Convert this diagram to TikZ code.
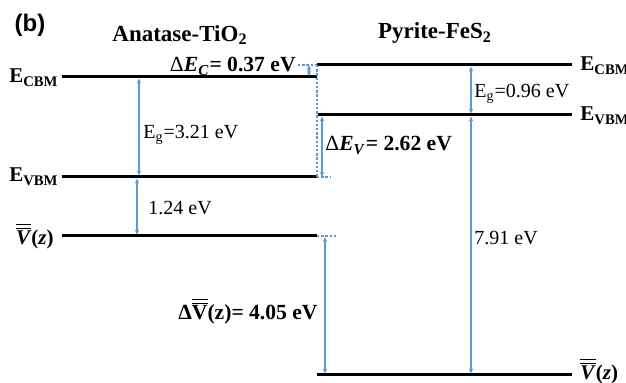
\documentclass[tikz,border=0pt]{standalone}
\usepackage{fontspec}
\setmainfont{Liberation Serif}
\newfontfamily\labelsans{Liberation Sans}
\usetikzlibrary{arrows.meta}
\definecolor{arrblue}{HTML}{5B9BD5}
\newcommand{\mybi}[1]{\textbf{\textit{#1}}}
\newcommand{\mydblV}{\ensuremath{\overline{\overline{\mbox{\mybi{V}}}}}\textbf{(\textit{z})}}
\newcommand{\mydE}[1]{\textmd{Δ}\mybi{E}\textsubscript{\mybi{#1}}}
\begin{document}
\begin{tikzpicture}[x=0.5pt,y=-0.5pt,
  level/.style={line width=1.5pt, black},
  gap/.style={arrblue, line width=0.55pt, {Stealth[length=2.5pt,width=2.2pt]}-{Stealth[length=2.5pt,width=2.2pt]}},
  guide/.style={arrblue, line width=0.55pt, dash pattern=on 1.2pt off 0.9pt},
  val/.style={inner sep=0pt, font=\fontsize{10}{12}\selectfont},
  side/.style={inner sep=0pt, font=\fontsize{10.5}{12}\selectfont\bfseries},
  title/.style={inner sep=0pt, font=\fontsize{11.5}{13}\selectfont\bfseries},
  big/.style={inner sep=0pt, font=\fontsize{10.8}{13}\selectfont\bfseries},
  vlab/.style={inner sep=0pt, font=\fontsize{10.5}{13}\selectfont}]
\useasboundingbox (0,0) rectangle (626,383);

% level end points
\coordinate (LC1) at (62,77);  \coordinate (LC2) at (317,77);
\coordinate (LV1) at (62,177); \coordinate (LV2) at (317,177);
\coordinate (LZ1) at (62,236); \coordinate (LZ2) at (317,236);
\coordinate (RC1) at (317,65); \coordinate (RC2) at (572,65);
\coordinate (RV1) at (318,115); \coordinate (RV2) at (572,115);
\coordinate (RZ1) at (317,375); \coordinate (RZ2) at (572,375);

% levels
\draw[level] (LC1) -- (LC2);
\draw[level] (LV1) -- (LV2);
\draw[level] (LZ1) -- (LZ2);
\draw[level] (RC1) -- (RC2);
\draw[level] (RV1) -- (RV2);
\draw[level] (RZ1) -- (RZ2);

% guide lines
\coordinate (g1) at (298,65);
\coordinate (g2) at (330,177);
\coordinate (g3) at (336,236);
\draw[guide] (g1) -- (RC1);
\draw[guide] (RC1) -- (LV2);
\draw[guide] (LV2) -- (g2);
\draw[guide] (LZ2) -- (g3);

% arrows
\coordinate (a1t) at (139,78.5);  \coordinate (a1b) at (139,175.5);
\coordinate (a2t) at (137,178.5); \coordinate (a2b) at (137,234.5);
\coordinate (a3t) at (471,66.5);  \coordinate (a3b) at (471,113.5);
\coordinate (a4t) at (471,116.5); \coordinate (a4b) at (471,373.5);
\coordinate (a5t) at (325,237);   \coordinate (a5b) at (325,373.5);
\coordinate (a6t) at (322,116.5); \coordinate (a6b) at (322,177);
\coordinate (a7t) at (309,65);    \coordinate (a7b) at (309,76);
\draw[gap] (a1t) -- (a1b);
\draw[gap] (a2t) -- (a2b);
\draw[gap] (a3t) -- (a3b);
\draw[gap] (a4t) -- (a4b);
\draw[gap] (a5t) -- (a5b);
\draw[gap] (a6t) -- (a6b);
\draw[gap] (a7t) -- (a7b);

% titles
\node[inner sep=0pt, font=\labelsans\fontsize{12}{14}\selectfont\bfseries] (b) at (30,25) {(b)};
\node[title] (tA) at (180,35) {Anatase-TiO\textsubscript{2}};
\node[title] (tP) at (435,33) {Pyrite-FeS\textsubscript{2}};

% side labels
\node[side, anchor=base east] (lECl) at (59,83) {E\textsubscript{CBM}};
\node[side, anchor=base east] (lEVl) at (59,182) {E\textsubscript{VBM}};
\node[vlab, anchor=east] (lVl) at (54,236) {\mydblV};
\node[side, anchor=base west] (lECr) at (580,71) {E\textsubscript{CBM}};
\node[side, anchor=base west] (lEVr) at (580,121) {E\textsubscript{VBM}};
\node[vlab, anchor=west] (lVr) at (580,371) {\mydblV};

% values
\node[val, anchor=base west] (vEg1) at (143,139) {E\textsubscript{g}=3.21 eV};
\node[val, anchor=base west] (v124) at (148,215) {1.24 eV};
\node[val, anchor=base west] (vEg2) at (474,98) {E\textsubscript{g}=0.96 eV};
\node[val, anchor=base west] (v791) at (474,245) {7.91 eV};
\node[big, anchor=base east] (dEc) at (296,72) {\mydE{C}= 0.37 eV};
\node[big, anchor=base west] (dEv) at (325,151) {\mydE{V}= 2.62 eV};
\node[big, anchor=base east] (dV) at (318,320) {Δ\ensuremath{\overline{\overline{\mbox{\textbf{V}}}}}(z)= 4.05 eV};
\end{tikzpicture}
\end{document}
